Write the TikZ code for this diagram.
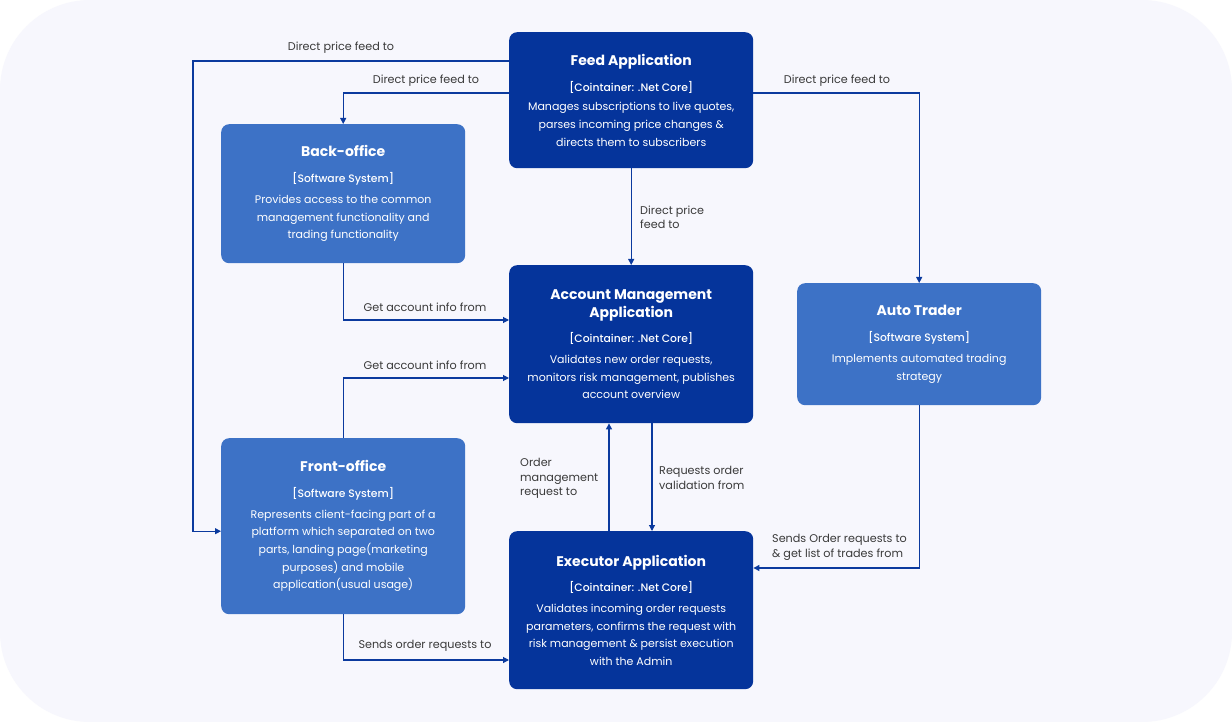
\documentclass[tikz,border=0pt]{standalone}
\usepackage{fontspec}
\setmainfont{Poppins}
\newfontfamily\poppinsmed{Poppins Medium}
\usetikzlibrary{arrows.meta,calc}
\definecolor{darkbox}{HTML}{05349B}
\definecolor{midbox}{HTML}{3D72C6}
\definecolor{linecol}{HTML}{0B3A9E}
\definecolor{bgcol}{HTML}{F7F7FD}
\definecolor{labcol}{HTML}{3A3A3A}
\tikzset{
  box/.style={rectangle, rounded corners=8pt, anchor=north west, minimum width=244pt,
    text=white, align=center, inner sep=0pt,
    font=\fontsize{11}{17.7}\selectfont},
  dbox/.style={box, fill=darkbox},
  mbox/.style={box, fill=midbox},
  conn/.style={draw=linecol, line width=1.1pt, -{Triangle[length=6pt,width=6pt]}},
  lab/.style={text=labcol, font=\fontsize{11.2}{14.5}\selectfont, inner sep=0pt},
}
\newcommand{\tfont}{\fontsize{14}{18}\selectfont\bfseries}
\newcommand{\sfont}{\poppinsmed\fontsize{10.8}{14}\selectfont}
\begin{document}
\begin{tikzpicture}[x=1pt,y=-1pt]
\useasboundingbox (0,0) rectangle (1232,722);
\fill[white] (0,0) rectangle (1232,722);
\fill[bgcol, rounded corners=90pt] (0,0) rectangle (1232,722);

\node[dbox, minimum height=136pt] (feed) at (509,32)
  {{\tfont Feed Application}\\[8pt]{\sfont [Cointainer: .Net Core]}\\[2pt]Manages subscriptions to live quotes,\\ parses incoming price changes \&\\ directs them to subscribers};
\node[mbox, minimum height=139pt] (back) at (221,124)
  {{\tfont Back-office}\\[8pt]{\sfont [Software System]}\\[3pt]Provides access to the common\\ management functionality and\\ trading functionality};
\node[dbox, minimum height=158pt] (acct) at (509,265)
  {{\tfont Account Management}\\{\tfont Application}\\[8pt]{\sfont [Cointainer: .Net Core]}\\[3pt]Validates new order requests,\\ monitors risk management, publishes\\ account overview};
\node[mbox, minimum height=122pt] (auto) at (797,283)
  {{\tfont Auto Trader}\\[8pt]{\sfont [Software System]}\\[4pt]Implements automated trading\\ strategy};
\node[mbox, minimum height=176pt] (front) at (221,438)
  {{\tfont Front-office}\\[8pt]{\sfont [Software System]}\\[3pt]Represents client-facing part of a\\ platform which separated on two\\ parts, landing page(marketing\\ purposes) and mobile\\ application(usual usage)};
\node[dbox, minimum height=158pt] (exec) at (509,531)
  {{\tfont Executor Application}\\[8pt]{\sfont [Cointainer: .Net Core]}\\[3pt]Validates incoming order requests\\ parameters, confirms the request with\\ risk management \& persist execution\\ with the Admin};

% connectors
\coordinate (c1) at (193,61);
\draw[conn] ([yshift=-29pt]feed.north west) -- (c1) |- ([yshift=-5pt]front.west);
\draw[conn] ([yshift=-61pt]feed.north west) -| (back.north);
\draw[conn] ([yshift=-61pt]feed.north east) -| (auto.north);
\draw[conn] (feed.south) -- (acct.north);
\draw[conn] (back.south) |- ([yshift=-55pt]acct.north west);
\draw[conn] (front.north) |- ([yshift=-113pt]acct.north west);
\draw[conn] ([xshift=100pt]exec.north west) -- ([xshift=100pt]acct.south west);
\draw[conn] ([xshift=143pt]acct.south west) -- ([xshift=143pt]exec.north west);
\draw[conn] (auto.south) |- ([yshift=-37pt]exec.north east);
\draw[conn] (front.south) |- ([yshift=-129pt]exec.north west);

% labels
\node[lab] (l1) at (341,47.5) {Direct price feed to};
\node[lab] (l2) at (426,80.5) {Direct price feed to};
\node[lab] (l3) at (837,80.5) {Direct price feed to};
\node[lab, anchor=west, align=left] (l4) at (640,217.5) {Direct price\\ feed to};
\node[lab] (l5) at (425,307) {Get account info from};
\node[lab] (l6) at (425,365) {Get account info from};
\node[lab, anchor=west, align=left] (l7) at (520,478.5) {Order\\ management\\ request to};
\node[lab, anchor=west, align=left] (l8) at (659,478) {Requests order\\ validation from};
\node[lab, anchor=west, align=left] (l9) at (772,547.5) {Sends Order requests to\\ \& get list of trades from};
\node[lab] (l10) at (425,646) {Sends order requests to};
\end{tikzpicture}
\end{document}
